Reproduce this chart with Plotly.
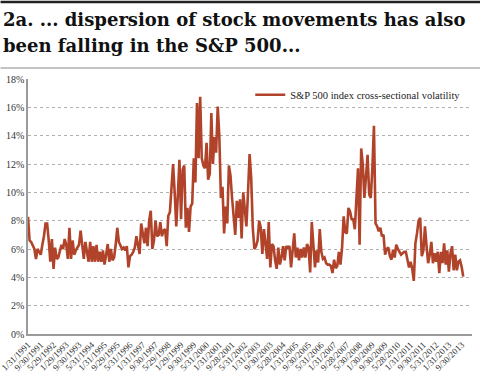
import plotly.graph_objects as go

series_name = "S&P 500 index cross-sectional volatility"

title_lines = [
    "2a. ... dispersion of stock movements has also",
    "been falling in the S&P 500...",
]

# monthly values (%), Jan 1991 .. Oct 2013
volatility = [
    8.27, 6.6, 6.5, 6.3, 6.0, 5.3, 6.0, 5.8, 5.6, 6.3, 6.9, 7.8, 7.8, 6.6, 5.1, 6.7, 4.6, 6.1, 5.3, 5.4,
    5.8, 6.3, 6.0, 6.7, 6.3, 5.3, 7.5, 5.3, 6.6, 5.6, 5.9, 6.1, 6.3, 7.3, 6.4, 5.3, 6.5, 5.7, 5.1, 6.5,
    5.1, 6.2, 5.1, 6.3, 5.1, 5.8, 5.1, 5.9, 4.9, 5.6, 6.35, 5.1, 6.0, 5.2, 5.4, 6.3, 7.5, 6.5, 6.2, 6.0,
    6.1, 5.9, 6.2, 4.7, 5.5, 5.6, 5.8, 6.1, 6.9, 6.2, 5.65, 7.8, 7.1, 6.4, 7.5, 6.2, 8.0, 8.7, 6.0, 6.6,
    8.0, 6.9, 7.0, 7.9, 6.9, 7.3, 7.4, 6.2, 8.35, 8.6, 10.3, 12.0, 10.0, 7.6, 9.8, 12.3, 8.1, 11.6, 11.9, 7.5,
    8.9, 7.2, 9.0, 9.2, 12.4, 10.7, 16.3, 12.4, 16.75, 12.4, 11.9, 11.7, 13.5, 10.9, 11.3, 15.6, 12.0, 13.9, 12.8, 16.05,
    14.0, 9.6, 10.4, 7.1, 9.0, 7.8, 11.9, 11.2, 9.6, 8.5, 7.0, 9.4, 8.2, 9.5, 6.75, 10.0, 8.9, 7.6, 10.0, 12.7,
    11.0, 7.5, 6.0, 6.2, 6.6, 8.0, 7.5, 5.65, 7.4, 6.2, 5.3, 7.9, 4.7, 6.35, 6.2, 5.2, 4.6, 6.1, 4.9, 5.4,
    6.2, 5.2, 6.2, 6.1, 6.2, 4.7, 6.0, 7.1, 5.4, 6.1, 5.2, 6.0, 5.4, 6.1, 5.4, 6.35, 6.1, 4.35, 7.9, 6.0,
    4.7, 5.9, 5.05, 7.4, 5.8, 5.3, 5.4, 5.0, 4.9, 4.9, 4.8, 4.3, 5.25, 4.65, 4.8, 5.8, 4.9, 6.1, 8.3, 7.2,
    7.1, 8.9, 8.65, 8.1, 8.1, 7.4, 9.95, 11.7, 6.3, 13.1, 11.95, 9.6, 11.1, 12.65, 9.85, 9.6, 11.7, 14.7, 7.8, 7.6,
    7.25, 7.5, 6.9, 7.0, 5.6, 6.0, 6.1, 5.5, 5.25, 5.95, 5.4, 6.3, 6.0, 5.8, 5.6, 5.7, 5.8, 5.8, 5.2, 4.7,
    5.1, 4.6, 3.75, 6.4, 7.1, 8.0, 8.2, 5.5, 5.9, 7.6, 6.2, 5.0, 5.6, 6.5, 5.0, 5.7, 5.1, 5.8, 4.3, 5.8,
    5.0, 6.4, 4.9, 5.9, 4.4, 5.7, 6.2, 4.5, 5.6, 4.5, 5.1, 5.2, 4.75, 4.05,
]

tick_labels = [
    "1/31/1991", "9/30/1991", "5/29/1992", "1/29/1993", "9/30/1993", "5/31/1994", "1/31/1995",
    "9/29/1995", "5/31/1996", "1/31/1997", "9/30/1997", "5/29/1998", "1/29/1999", "9/30/1999",
    "5/31/2000", "1/31/2001", "9/28/2001", "5/31/2002", "1/31/2003", "9/30/2003", "5/28/2004",
    "1/31/2005", "9/30/2005", "5/31/2006", "1/31/2007", "9/28/2007", "5/30/2008", "1/30/2009",
    "9/30/2009", "5/28/2010", "1/31/2011", "9/30/2011", "5/31/2012", "1/31/2013", "9/30/2013",
]
tick_step = 8  # months between labelled ticks

y_ticks = [0, 2, 4, 6, 8, 10, 12, 14, 16, 18]

x = list(range(len(volatility)))
tickvals = [k * tick_step for k in range(len(tick_labels))]

LINE = "#b0432a"
SERIF = "Liberation Serif"

# plot area in pixels (for placing decorations outside it)
L, R, T, B = 27.5, 472.0, 79.0, 333.7
W, H = 480, 377


def px_x(px):
    return (px - L) / (R - L)


def px_y(py):
    return (B - py) / (B - T)


fig = go.Figure()
fig.add_trace(go.Scatter(
    x=x, y=volatility, mode="lines", name=series_name,
    line=dict(color=LINE, width=2.6),
))

annotations = [
    dict(text=f"<b>{title_lines[0]}</b>", xref="paper", yref="paper",
         x=px_x(0), y=px_y(19.5), xanchor="left", yanchor="middle", showarrow=False,
         font=dict(family="DejaVu Serif", size=18, color="#111")),
    dict(text=f"<b>{title_lines[1]}</b>", xref="paper", yref="paper",
         x=px_x(0), y=px_y(45.5), xanchor="left", yanchor="middle", showarrow=False,
         font=dict(family="DejaVu Serif", size=18, color="#111")),
]

fig.update_layout(
    width=W, height=H,
    margin=dict(l=L, r=W - R, t=T, b=H - B, autoexpand=False),
    paper_bgcolor="white", plot_bgcolor="white",
    showlegend=True,
    legend=dict(
        x=px_x(250), y=0.995, xanchor="left", yanchor="top",
        bgcolor="rgba(0,0,0,0)",
        font=dict(family=SERIF, size=10.5, color="#222"),
    ),
    xaxis=dict(
        range=[0, 278.5], automargin=False,
        tickmode="array", tickvals=tickvals, ticktext=tick_labels,
        tickangle=-45, ticklabeloverflow="allow",
        tickfont=dict(family=SERIF, size=9, color="#333"),
        showgrid=False, zeroline=False,
        showline=True, linecolor="#9a9a9a", linewidth=2,
        ticks="",
    ),
    yaxis=dict(
        range=[0, 18], automargin=False,
        tickvals=y_ticks, ticktext=[f"{v}%" for v in y_ticks],
        tickfont=dict(family=SERIF, size=10, color="#333"),
        showgrid=True, gridcolor="#b0b0b0", gridwidth=1, griddash="dot",
        zeroline=False,
        showline=True, linecolor="#9a9a9a", linewidth=1.5,
        ticks="",
    ),
    annotations=annotations,
    shapes=[
        dict(type="line", xref="paper", yref="paper",
             x0=px_x(0), x1=px_x(W), y0=px_y(2.0), y1=px_y(2.0),
             line=dict(color="#222", width=2.5)),
        dict(type="line", xref="paper", yref="paper",
             x0=px_x(0), x1=px_x(W), y0=px_y(68), y1=px_y(68),
             line=dict(color="#c4c4c4", width=2.2)),
    ],
)

fig.write_html(
    "out.html",
    config={"displayModeBar": False},
    post_script="document.body.style.margin='0';",
)
